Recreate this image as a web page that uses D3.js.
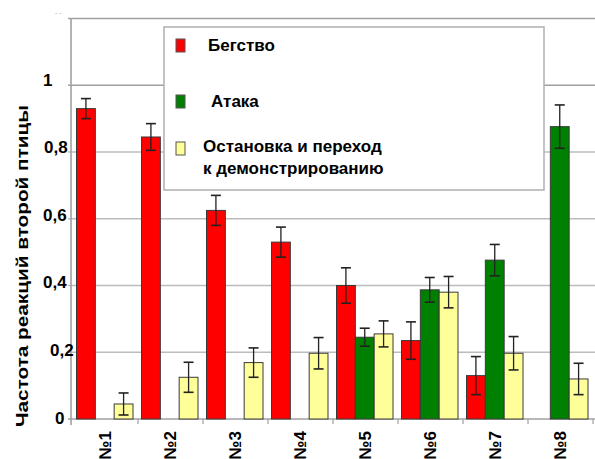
<!DOCTYPE html>
<html>
<head>
<meta charset="utf-8">
<script src="https://cdn.jsdelivr.net/npm/d3@7/dist/d3.min.js"></script>
<style>
  html, body { margin: 0; padding: 0; background: #fff; }
  svg { display: block; font-family: "Liberation Sans", Arial, sans-serif; }
</style>
</head>
<body>
<svg id="chart" width="595" height="459"></svg>
<script>
// Categories (bird pairs) and the three reaction types
const categories = ["№1", "№2", "№3", "№4", "№5", "№6", "№7", "№8"];
const seriesNames = ["Бегство", "Атака", "Остановка и переход\nк демонстрированию"];

// Mean reaction frequency and half-width of the error bar, per category
const flight     = [0.93, 0.845, 0.625, 0.53, 0.40, 0.235, 0.13, null];
const flightErr  = [0.03, 0.04, 0.045, 0.045, 0.053, 0.056, 0.057, null];
const attack     = [null, null, null, null, 0.245, 0.387, 0.476, 0.876];
const attackErr  = [null, null, null, null, 0.027, 0.037, 0.047, 0.065];
const stopShow   = [0.045, 0.125, 0.169, 0.197, 0.255, 0.38, 0.197, 0.12];
const stopErr    = [0.033, 0.045, 0.044, 0.047, 0.039, 0.047, 0.05, 0.047];

// Y axis ticks and their labels
const yTicks = [0, 0.2, 0.4, 0.6, 0.8, 1, 1.2];
const yTickLabels = ["0", "0,2", "0,4", "0,6", "0,8", "1", ""];
// left edge of each y tick label (labels are not aligned in this layout)
const yTickLabelLeft = [55, 50, 43, 43, 44, 43, 0];

const yTitle = "Частота реакций второй птицы";

const colors = ["#ff0000", "#008000", "#ffff99"];

const series = [
  { name: seriesNames[0], values: flight, errs: flightErr },
  { name: seriesNames[1], values: attack, errs: attackErr },
  { name: seriesNames[2], values: stopShow, errs: stopErr }
];

const svg = d3.select("#chart");
const fontSize = 17;

const axisX = 71, plotLeft = 73, plotRight = 593;
const y = d3.scaleLinear().domain([0, 1.2]).range([419, 18.5]);
const x0 = d3.scaleBand().domain(categories).range([plotLeft, plotRight]);
const x1 = d3.scaleBand().domain(d3.range(series.length)).range([3.5, x0.bandwidth() - 5]);

// Gridlines
svg.append("g").selectAll("line")
  .data(yTicks.filter(t => t > 0))
  .join("line")
  .attr("x1", axisX - 3).attr("x2", 595)
  .attr("y1", d => y(d)).attr("y2", d => y(d))
  .attr("stroke", d => d >= 1 ? "#a0a0a0" : "#bcbcbc").attr("stroke-width", 1.6);

// Axes lines
svg.append("line")
  .attr("x1", axisX).attr("x2", axisX)
  .attr("y1", y(1.2)).attr("y2", y(0) + 6)
  .attr("stroke", "#a0a0a0").attr("stroke-width", 1.6);
svg.append("line")
  .attr("x1", axisX - 3).attr("x2", plotRight + 2)
  .attr("y1", y(0)).attr("y2", y(0))
  .attr("stroke", "#a0a0a0").attr("stroke-width", 1.6);
// Category boundary ticks
svg.append("g").selectAll("line")
  .data(categories)
  .join("line")
  .attr("x1", d => x0(d) + x0.bandwidth()).attr("x2", d => x0(d) + x0.bandwidth())
  .attr("y1", y(0)).attr("y2", y(0) + 5)
  .attr("stroke", "#a0a0a0").attr("stroke-width", 1.2);

// Y tick labels
svg.append("g").selectAll("text")
  .data(yTicks.map((t, i) => ({ t, label: yTickLabels[i], left: yTickLabelLeft[i] })).filter(d => d.label))
  .join("text")
  .attr("x", d => d.left)
  .attr("y", d => y(d.t) - 1 - d.t * 4)
  .attr("dominant-baseline", "central")
  .attr("font-size", fontSize).attr("font-weight", "bold").attr("fill", "#000")
  .text(d => d.label);

// faint label above the top gridline
svg.append("text")
  .attr("x", 55).attr("y", 15)
  .attr("font-size", 7).attr("fill", "#aaa")
  .text("- -");

// Y axis title
svg.append("text")
  .attr("transform", `translate(28,${266}) rotate(-90)`)
  .attr("text-anchor", "middle")
  .attr("font-size", fontSize).attr("font-weight", "bold").attr("fill", "#000")
  .attr("textLength", 322).attr("lengthAdjust", "spacingAndGlyphs")
  .text(yTitle);

// Category labels, rotated
svg.append("g").selectAll("text")
  .data(categories)
  .join("text")
  .attr("transform", d => `translate(${x0(d) + x0.bandwidth() / 2},431) rotate(-90)`)
  .attr("text-anchor", "end")
  .attr("dominant-baseline", "central")
  .attr("font-size", fontSize).attr("font-weight", "bold").attr("fill", "#000")
  .text(d => d);

// Bars with error bars
const groups = svg.append("g").selectAll("g")
  .data(categories)
  .join("g")
  .attr("transform", d => `translate(${x0(d)},0)`);

const cells = groups.selectAll("g")
  .data((c, ci) => series.map((s, si) => ({ si, v: s.values[ci], e: s.errs[ci] })).filter(d => d.v != null))
  .join("g");

cells.append("rect")
  .attr("x", d => x1(d.si))
  .attr("width", x1.bandwidth())
  .attr("y", d => y(d.v))
  .attr("height", d => y(0) - y(d.v))
  .attr("fill", d => colors[d.si])
  .attr("stroke", "#3a3a3a").attr("stroke-width", 1);

const capW = 5;
cells.append("line")
  .attr("x1", d => x1(d.si) + x1.bandwidth() / 2).attr("x2", d => x1(d.si) + x1.bandwidth() / 2)
  .attr("y1", d => y(d.v + d.e)).attr("y2", d => y(d.v - d.e))
  .attr("stroke", "#222").attr("stroke-width", 1.3);
cells.append("line")
  .attr("x1", d => x1(d.si) + x1.bandwidth() / 2 - capW).attr("x2", d => x1(d.si) + x1.bandwidth() / 2 + capW)
  .attr("y1", d => y(d.v + d.e)).attr("y2", d => y(d.v + d.e))
  .attr("stroke", "#222").attr("stroke-width", 1.6);
cells.append("line")
  .attr("x1", d => x1(d.si) + x1.bandwidth() / 2 - capW).attr("x2", d => x1(d.si) + x1.bandwidth() / 2 + capW)
  .attr("y1", d => y(d.v - d.e)).attr("y2", d => y(d.v - d.e))
  .attr("stroke", "#222").attr("stroke-width", 1.6);

// Legend
const legend = svg.append("g");
legend.append("rect")
  .attr("x", 164).attr("y", 27).attr("width", 380).attr("height", 163)
  .attr("fill", "#fff").attr("stroke", "#b4b4b4").attr("stroke-width", 1.6);

const legendRows = [
  { swY: 39, textX: 208, lines: [51] },
  { swY: 95, textX: 211, lines: [107] },
  { swY: 142, textX: 203, lines: [152, 174] }
];
legendRows.forEach((r, i) => {
  legend.append("rect")
    .attr("x", 176).attr("y", r.swY).attr("width", 9).attr("height", 13)
    .attr("fill", colors[i]).attr("stroke", "#555").attr("stroke-width", 1);
  const parts = series[i].name.split("\n");
  parts.forEach((p, k) => {
    legend.append("text")
      .attr("x", r.textX).attr("y", r.lines[k])
      .attr("font-size", fontSize).attr("font-weight", "bold").attr("fill", "#000")
      .text(p);
  });
});
</script>
</body>
</html>
